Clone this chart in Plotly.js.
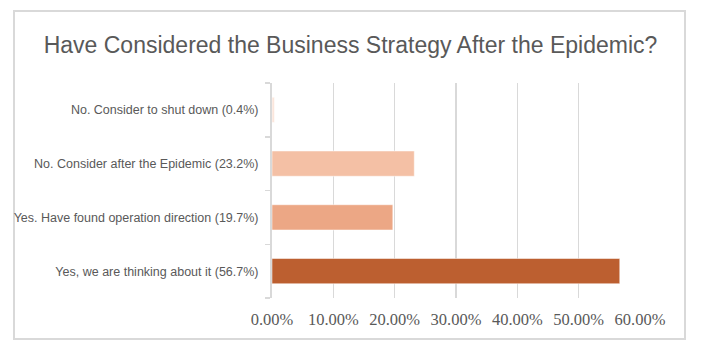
<!DOCTYPE html>
<html>
<head>
<meta charset="utf-8">
<script src="https://cdn.plot.ly/plotly-3.0.1.min.js"></script>
<style>
html,body{margin:0;padding:0;background:#fff;}
#chart{width:701px;height:352px;}
</style>
</head>
<body>
<div id="chart"></div>
<script>
var categories = [
  "Yes, we are thinking about it (56.7%)",
  "Yes. Have found operation direction (19.7%)",
  "No. Consider after the Epidemic (23.2%)",
  "No. Consider to shut down (0.4%)"
];
var values = [0.567, 0.197, 0.232, 0.004];
var barColors = ["#BC5F30", "#ECA785", "#F4C0A5", "#FBE6DB"];
var xTickVals = [0, 0.1, 0.2, 0.3, 0.4, 0.5, 0.6];
var xTickText = ["0.00%", "10.00%", "20.00%", "30.00%", "40.00%", "50.00%", "60.00%"];

var trace = {
  type: "bar",
  orientation: "h",
  y: categories,
  x: values,
  marker: {color: barColors, line: {color: "rgba(255,255,255,0.5)", width: 1}},
  width: 0.47,
  hoverinfo: "none"
};

var L = 272, R = 61, T = 83, B = 54;
var pw = 701 - L - R, ph = 352 - T - B;
function px(x){ return (x - L) / pw; }
function py(y){ return (352 - B - y) / ph; }

var layout = {
  width: 701, height: 352,
  margin: {l: L, r: R, t: T, b: B, pad: 0},
  paper_bgcolor: "#ffffff",
  plot_bgcolor: "#ffffff",
  showlegend: false,
  title: {
    text: "Have Considered the Business Strategy After the Epidemic?",
    font: {family: "Liberation Sans, Arial, sans-serif", size: 23, color: "#595959"},
    x: 0.5, xref: "container", xanchor: "center",
    y: 1 - 45/352, yref: "container", yanchor: "middle"
  },
  xaxis: {
    range: [0, 0.6],
    tickvals: xTickVals,
    ticktext: xTickText,
    showgrid: true,
    gridcolor: "#d9d9d9",
    gridwidth: 1.5,
    zeroline: false,
    showline: false,
    ticks: "",
    ticklabelstandoff: 9,
    tickfont: {family: "Liberation Serif, Times New Roman, serif", size: 16.5, color: "#595959"},
    fixedrange: true
  },
  yaxis: {
    type: "category",
    categoryorder: "array",
    categoryarray: categories,
    showgrid: false,
    zeroline: false,
    showline: true,
    linecolor: "#d9d9d9",
    linewidth: 2,
    ticks: "outside",
    tickson: "boundaries",
    ticklen: 5,
    tickwidth: 1.5,
    tickcolor: "#d9d9d9",
    ticklabelstandoff: 9,
    tickfont: {family: "Liberation Sans, Arial, sans-serif", size: 12.5, color: "#595959"},
    fixedrange: true
  },
  shapes: [{
    type: "rect", xref: "paper", yref: "paper",
    x0: px(14), x1: px(685), y0: py(339), y1: py(11),
    line: {color: "#d9d9d9", width: 2},
    fillcolor: "rgba(0,0,0,0)",
    layer: "below"
  }]
};

Plotly.newPlot("chart", [trace], layout, {displayModeBar: false, staticPlot: true});
</script>
</body>
</html>
